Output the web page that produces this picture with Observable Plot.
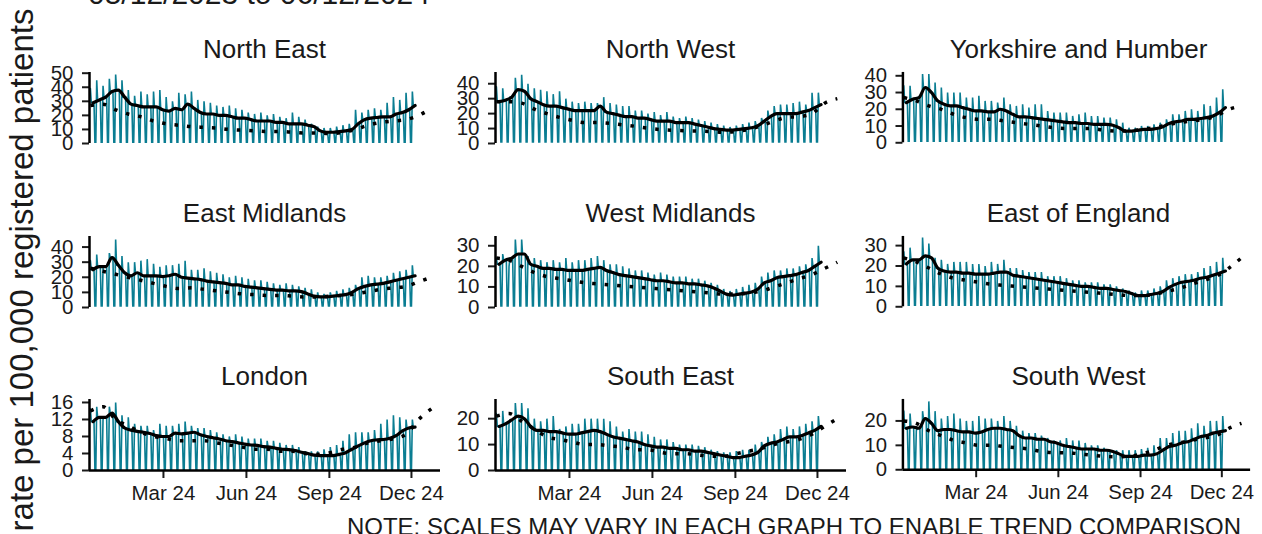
<!DOCTYPE html>
<html>
<head>
<meta charset="utf-8">
<script src="https://cdn.jsdelivr.net/npm/d3@7"></script>
<script src="https://cdn.jsdelivr.net/npm/@observablehq/plot@0.6"></script>
<style>
  html, body { margin: 0; padding: 0; background: #fff; }
  #wrap { position: relative; width: 1262px; height: 534px; overflow: hidden; background: #fff; font-family: "Liberation Sans", Arial, sans-serif; }
  .panel { position: absolute; }
  .panel svg { overflow: visible; }
  .panel g[aria-label$="tick"] { stroke-width: 2px; }
  #overlay { position: absolute; left: 0; top: 0; pointer-events: none; }
</style>
</head>
<body>
<div id="wrap"></div>
<script>
// ---------------- data ----------------
const regions = ["North East", "North West", "Yorkshire and Humber",
                 "East Midlands", "West Midlands", "East of England",
                 "London", "South East", "South West"];

// weekly spike heights (daily rate, start of week)
const peakNE = [39,45,41,46,49,45,38,34,37,35, 37,38,33,30,36,35,37,31,30,29, 27,26,27,25,24,22,21,22,20,21, 19,18,22,19,17,14,12,11,11,12, 13,14,24,22,24,25,24,29,33,31, 36,37];
const peakNW = [38,37,30,44,46,40,37,36,35,33, 35,30,28,27,28,27,27,31,27,26, 25,25,22,22,20,21,19,21,18,17, 18,17,16,15,14,13,12,11,12,13, 14,15,17,22,25,26,26,27,28,26, 34,34];
const peakYH = [34,34,25,41,41,36,33,30,30,30, 27,27,28,25,25,24,27,23,22,23, 21,23,23,19,18,18,18,16,17,18, 16,16,15,15,14,12,9,9,10,10, 11,12,14,17,17,19,20,19,23,22, 27,32];
const peakEM = [31,35,26,36,45,34,30,30,31,32, 29,27,28,28,29,31,25,25,26,24, 23,22,20,21,20,19,18,18,17,16, 15,16,15,14,13,12,10,9,10,11, 12,13,15,20,21,20,20,21,23,24, 25,28];
const peakWM = [24,26,20,33,33,25,24,23,22,23, 22,24,22,23,23,24,25,23,21,21, 20,19,18,18,17,16,17,16,15,15, 15,14,14,13,12,11,9,8,9,10, 11,12,15,17,18,18,19,19,20,21, 24,30];
const peakEE = [27,29,20,34,31,24,23,21,22,22, 22,21,21,20,22,21,23,19,19,18, 17,17,17,15,15,15,14,13,13,12, 12,12,11,11,10,9,8,7,8,8, 9,10,13,14,15,16,16,17,19,20, 22,24];
const peakLO = [14.5,15,12,15,16,13,12.5,11,10.5,10.5, 9.5,11,10.5,10.5,11,11.5,10.5,10,10,9.5, 9,8.5,8,8.5,8,7.5,7.5,7.5,7,7, 6.5,6,6,5.5,4.5,4.5,4.5,5,5.5,6, 7,8.5,9,9,9,9.5,11,12,13,12.5, 12,12];
const peakSE = [22,23,18,26,26,24,20,19,20,21, 16,17,18,18,20,20,20,20,19,17, 15,16,15,15,14,13,12,12,11,10, 10,10,9.5,9,8,7.5,7,7,7.5,8, 8,10,11,13,14,16,17,16,17,18, 19,21];
const peakSW = [24,23,16,24,28,24,21,22,23,21, 20,20,22,21,21,20,22,20,18,16, 15,15,14,13,12,12,13,12,12,11, 10,10,9,8,8,8,8,8,8.5,9, 10,13,13,15,16,16,17,19,18,20, 20,22];

// weekly 7-day average (black line)
const avgNE = [29,31,33,37,38,33,28,27,26,26, 26,24,23,25,24,28,25,22,21,21, 20,20,19,18,18,17,16,16,16,15, 15,14,14,14,13,12,9,8,8,8.5, 9,10,14,17,18,18.5,19,19,21,22, 24,27];
const avgNW = [28,29,31,36,35,30,28,26,25,25, 24,23,22,22,22,22,25,21,20,19, 18,18,17,17,16,15,15,15,14,14, 14,13,12,11,10,9.5,9,9,9.5,10, 10.5,12,15,18,20,20,20,20,21,22, 24,26];
const avgYH = [24,26,27,33,30,25,23,22,22,21, 20,19,19,18.5,18.5,20,19,17,15.5,15.5, 15,14.5,14,13.5,13,12.5,12,12,11.5,11.5, 11,11,11,10.5,9,7,7,7.5,8,8, 8.5,9.5,11.5,12.5,13,14,14,14.5,15,16, 18,21];
const avgEM = [25,27,27,33,28,23,21,23,21,21, 21,20.5,21,22,20,19.5,19,18.5,17.5,17, 16.5,16,15,15,14,13.5,13,12.5,12,11.5, 11.5,11,11,10.5,9,7.5,7,7,7.5,8, 8.5,10,12.5,14,15,15.5,16,17,18,19, 20,21];
const avgWM = [21,23,24,26,26,21,20,19,19,18.5, 18.5,18,18,18,18.5,19,19.5,18,17,16, 15.5,15,14.5,14,13.5,13,13,12.5,12,12, 11.5,11.5,11,10.5,9.5,8,6.5,6,6.5,7, 7.5,9,12,13,14.5,15,15.5,16,17,18, 20,22];
const avgEE = [21,23,23,25,24,19,17.5,17,17,16.5, 16.5,16,16,16,16.5,17,17,15.5,15,14.5, 14,13.5,13,12.5,12,11.5,11,10.5,10,10, 9.5,9,9,8.5,8,7.5,6.5,5.5,5.5,6, 6.5,7.5,9.5,11,12,12.5,13,14,14.5,15.5, 16.5,17.5];
const avgLO = [11.5,12.5,12.5,13.5,11.5,10,9.5,9.2,9,8.7, 8.2,8,8,8.8,8.6,8.8,9,8.4,8,7.7, 7.4,7,6.8,6.5,6.2,6,5.9,5.6,5.5,5.2, 5,4.9,4.7,4.3,4,3.6,3.5,3.5,3.5,3.8, 4.2,5,5.8,6.5,7,7.2,7.3,7.6,8.2,9.3, 10,10.2];
const avgSE = [17,18,19.5,21,20,17,15.5,15.5,15,15, 14.5,14,14,14.5,15,15.5,15,14,13,12.5, 12,11.5,11,10,9.5,9,9,8.5,8.5,8, 8,7.5,7.5,7,6.5,6,5.5,5,5,5.5, 6,7,9.5,10.5,11,12,13,13,13.5,14.5, 15.5,17];
const avgSW = [17,17.5,17,21,19,16,16.5,16.5,16,15.5, 15.5,15,15.5,16.5,17,17,16.5,16,14,13, 13,12.5,12.5,11.5,11,10,9.5,9,8.5,8.5, 8.5,8,8,7.5,6.5,5.5,5.5,5.5,6,6, 6.5,8,9.5,10,11,11.5,12.5,13.5,14,15, 15.5,16];

// fortnightly comparison series (dotted line)
const dotsNE = [27,28,24,21,19,16,14,13,12,11.5, 11,10,9.5,9,8.5,8.5,8,7.5,7.5,7, 8,10,13,15,16,17,20,25];
const dotsNW = [28,28,27,23,20,17.5,15.5,14,14,13.5, 12.5,11.5,10.2,9.3,8.8,8.5,8.3,8,7.5,8, 9.5,12,15,17.5,18,20,27,30];
const dotsYH = [27,25,22,20,17,15,14,14,13,12, 11,10,9,8.5,8.5,8.5,7.5,7,7,8, 9,10.5,12,13,14,16,20,22];
const dotsEM = [26,24,22,20,18,16,14,12.5,13,12, 11,10,9,8.5,8,8,7.5,7,7,7.5, 8,9,10.5,12,13,14,17,20];
const dotsWM = [24,23,20,17,15,14,13,12,11.5,11, 10.5,10,9.5,9,8.5,8,7.5,7,6.5,6.5, 7,8,10,12,14,16,19,22];
const dotsEE = [24,22,19,16,14,13,12,11,10.5,10, 9.5,9,8.5,8,7.5,7,6.5,6,5.5,5.5, 6,7.5,9,11,13,15,19,24];
const dotsLO = [14,15,12,10.5,9,8,7.5,7,7,7, 6.5,6,5.5,5,5,4.5,4.5,4,3.8,4.2, 5,5.5,6.5,7,7.5,8.5,12,14.5];
const dotsSE = [21,22,19,16,13,12,11,10,10,9.5, 9,8,8,7,6.5,6.5,6,5.5,5.5,6.5, 7.5,8.5,10,11,12,14,17,20];
const dotsSW = [20,19,16,14,12,11,10,10,9.5,9, 8.5,7.5,7,7,6.5,6,5.5,5.3,5.5,6.5, 8,10,11,12,13,14,17,19];

// weekend (Sat/Sun) daily level per region
const weekendLow = [1, 1, 1, 1, 0.8, 0.8, 0.3, 0.5, 0.5];

// y-axis tick values and upper limits per region
const yTicksList = [[0,10,20,30,40,50],[0,10,20,30,40],[0,10,20,30,40],
                    [0,10,20,30,40],[0,10,20,30],[0,10,20,30],
                    [0,4,8,12,16],[0,10,20],[0,10,20]];
const yTopList = [50.5, 47.5, 42, 47, 34.5, 34.5, 16.7, 27.4, 28.8];

// x ticks
const xTickDates = ["2024-03-01", "2024-06-01", "2024-09-01", "2024-12-01"];
const xTickLabels = ["Mar 24", "Jun 24", "Sep 24", "Dec 24"];
const firstMonday = "2023-12-11";
const lastDay = "2024-12-05";
const xStart = "2023-12-10";
const xEnd = "2025-01-02T05:00Z";

const titleText = "05/12/2023 to 06/12/2024";
const yLabelText = "rate per 100,000 registered patients";
const noteText = "NOTE: SCALES MAY VARY IN EACH GRAPH TO ENABLE TREND COMPARISON";

// ---------------- build ----------------
const peaks = [peakNE, peakNW, peakYH, peakEM, peakWM, peakEE, peakLO, peakSE, peakSW];
const avgs = [avgNE, avgNW, avgYH, avgEM, avgWM, avgEE, avgLO, avgSE, avgSW];
const dots = [dotsNE, dotsNW, dotsYH, dotsEM, dotsWM, dotsEE, dotsLO, dotsSE, dotsSW];

const DAY = 864e5;
const t0 = new Date(firstMonday + "T00:00Z").getTime();
const tEnd = new Date(lastDay + "T00:00Z").getTime();

const TEAL = "#0a7d92";
const FONT = '"Liberation Sans", Arial, sans-serif';
const colLeft = [89, 495, 903];
const rowTop = [72, 236, 399];
const PW = 351, PH = 71, ML = 62, MR = 12, MT = 6;

const wrap = document.getElementById("wrap");

regions.forEach((name, i) => {
  const col = i % 3, row = Math.floor(i / 3);
  const daily = [];
  peaks[i].forEach((p, w) => {
    const days = [p, avgs[i][w], avgs[i][w], avgs[i][w], avgs[i][w], weekendLow[i], weekendLow[i]];
    days.forEach((v, d) => {
      const t = t0 + (7 * w + d) * DAY;
      if (t <= tEnd) daily.push({date: new Date(t), value: v});
    });
  });
  const weekly = avgs[i].map((v, w) => ({date: new Date(Math.min(t0 + (7 * w + 3) * DAY, tEnd)), value: v}));
  const dotted = dots[i].map((v, k) => ({date: new Date(t0 + 14 * k * DAY), value: v}));
  const bottom = row === 2;
  const MB = bottom ? 42 : 6;
  const plot = Plot.plot({
    width: ML + PW + MR,
    height: MT + PH + MB,
    marginLeft: ML, marginRight: MR, marginTop: MT, marginBottom: MB,
    style: {fontFamily: FONT, fontSize: "20.5px", color: "#1a1a1a", background: "transparent", overflow: "visible"},
    x: {type: "utc", domain: [new Date(xStart + "T00:00Z"), new Date(xEnd)],
        ticks: xTickDates.map(d => new Date(d + "T00:00Z")),
        tickFormat: d => xTickLabels[xTickDates.findIndex(s => +new Date(s + "T00:00Z") === +d)],
        tickSize: 8, tickPadding: 7, label: null, axis: bottom ? "bottom" : null},
    y: {domain: [0, yTopList[i]], ticks: yTicksList[i], tickSize: 7, tickPadding: 9, label: null},
    marks: [
      Plot.line(daily, {x: "date", y: "value", stroke: TEAL, strokeWidth: 1.6, strokeLinejoin: "miter", strokeMiterlimit: 2}),
      Plot.line(dotted, {x: "date", y: "value", stroke: "#000", strokeWidth: 3.5, strokeDasharray: "3.5,9", strokeLinecap: "butt", curve: "monotone-x"}),
      Plot.line(weekly, {x: "date", y: "value", stroke: "#000", strokeWidth: 3.2, curve: "monotone-x"}),
      Plot.ruleX([new Date(xStart + "T00:00Z")], {stroke: "#000", strokeWidth: 2.5}),
      ...(bottom ? [Plot.ruleY([0], {stroke: "#000", strokeWidth: 2.5})] : [])
    ]
  });
  const div = document.createElement("div");
  div.className = "panel";
  div.style.left = (colLeft[col] - ML) + "px";
  div.style.top = (rowTop[row] - MT) + "px";
  div.appendChild(plot);
  wrap.appendChild(div);
});

// overlay texts
const ns = "http://www.w3.org/2000/svg";
const ov = document.createElementNS(ns, "svg");
ov.setAttribute("id", "overlay");
ov.setAttribute("width", 1262);
ov.setAttribute("height", 534);
ov.style.fontFamily = FONT;
function addText(txt, attrs) {
  const t = document.createElementNS(ns, "text");
  for (const k in attrs) t.setAttribute(k, attrs[k]);
  t.textContent = txt;
  ov.appendChild(t);
  return t;
}
addText(titleText, {x: 88, y: 4, "font-size": 30, fill: "#1a1a1a"});
addText(yLabelText, {x: 0, y: 0, "font-size": 33, fill: "#1a1a1a", "text-anchor": "middle",
  transform: "translate(33,270) rotate(-90)"});
const stripBase = [58, 222, 385];
regions.forEach((name, i) => {
  const col = i % 3, row = Math.floor(i / 3);
  addText(name, {x: colLeft[col] + PW / 2, y: stripBase[row], "font-size": 26, fill: "#1a1a1a", "text-anchor": "middle"});
});
addText(noteText, {x: 347, y: 535, "font-size": 24, fill: "#1a1a1a", textLength: 894, lengthAdjust: "spacingAndGlyphs"});
wrap.appendChild(ov);
</script>
</body>
</html>
